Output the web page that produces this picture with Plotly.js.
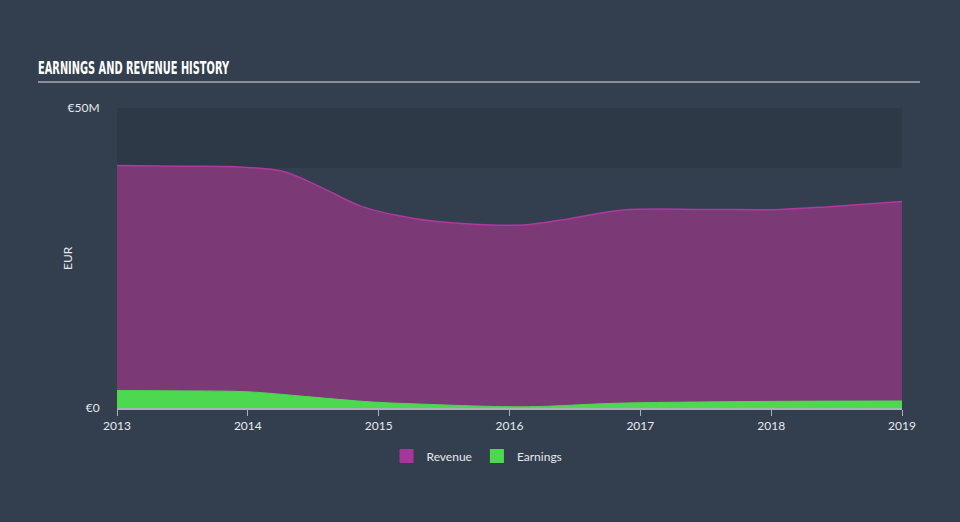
<!DOCTYPE html>
<html>
<head>
<meta charset="utf-8">
<script src="https://cdn.plot.ly/plotly-3.0.1.min.js"></script>
<style>
html,body{margin:0;padding:0;background:#333f4e;}
#chart{width:960px;height:522px;}
</style>
</head>
<body>
<div id="chart"></div>
<script>
// Revenue (EUR millions)
const revenueX = [2013.0, 2013.5, 2014.0, 2014.27, 2014.55, 2014.87, 2015.27, 2015.67, 2016.1, 2016.47, 2016.87, 2017.5, 2018.07, 2018.47, 2019.0];
const revenueY = [40.4, 40.3, 40.1, 39.4, 36.9, 33.6, 31.6, 30.7, 30.5, 31.6, 33.0, 33.1, 33.1, 33.6, 34.4];
// Earnings (EUR millions)
const earningsX = [2013.0, 2013.5, 2014.0, 2014.45, 2014.95, 2015.45, 2015.8, 2016.1, 2016.3, 2016.8, 2017.45, 2018.0, 2018.5, 2019.0];
const earningsY = [2.9, 2.85, 2.7, 1.9, 1.0, 0.55, 0.3, 0.2, 0.3, 0.78, 1.0, 1.1, 1.15, 1.17];
const xTicks = [2013, 2014, 2015, 2016, 2017, 2018, 2019];
const yTickVals = [0, 50];
const yTickText = ['€0', '€50M'];

const revColor = '#a7359c';
const revFill = '#7b3a76';
const earnColor = '#4cd94f';

const traces = [
  {x: revenueX, y: revenueY, type: 'scatter', mode: 'lines', fill: 'tozeroy',
   line: {color: '#b0389f', width: 1.5, shape: 'spline', smoothing: 1}, fillcolor: revFill,
   showlegend: false, hoverinfo: 'skip'},
  {x: earningsX, y: earningsY, type: 'scatter', mode: 'lines', fill: 'tozeroy',
   line: {color: earnColor, width: 1, shape: 'spline', smoothing: 1}, fillcolor: earnColor,
   showlegend: false, hoverinfo: 'skip'},
  {x: [null], y: [null], type: 'scatter', mode: 'markers', name: 'Revenue',
   marker: {color: revColor, symbol: 'square', size: 14}},
  {x: [null], y: [null], type: 'scatter', mode: 'markers', name: 'Earnings',
   marker: {color: earnColor, symbol: 'square', size: 14}}
];

const layout = {
  width: 960, height: 522,
  paper_bgcolor: '#333f4e',
  plot_bgcolor: 'rgba(0,0,0,0)',
  margin: {l: 117, r: 58, t: 108, b: 114},
  font: {family: 'Lato, "Open Sans", sans-serif', color: '#e6e9ed', size: 12},
  title: {
    text: 'EARNINGS AND REVENUE HISTORY',
    xref: 'container', yref: 'container',
    x: 38/960, xanchor: 'left', y: 1 - 68/522, yanchor: 'middle',
    font: {family: '"DejaVu Sans Condensed", "Liberation Sans Narrow", sans-serif', size: 17, weight: 700, color: '#ffffff'}
  },
  xaxis: {
    range: [2013, 2019], tickvals: xTicks, ticktext: xTicks.map(String),
    showgrid: false, zeroline: false, showline: true, linecolor: '#a9b0ba', linewidth: 1.5,
    ticks: 'outside', ticklen: 6, tickcolor: '#a9b0ba', tickwidth: 1,
    tickfont: {size: 12, color: '#e6e9ed'}, fixedrange: true
  },
  yaxis: {
    range: [0, 50], tickvals: yTickVals, ticktext: yTickText,
    showgrid: false, zeroline: false, showline: false,
    ticks: 'outside', ticklen: 14, tickcolor: 'rgba(0,0,0,0)',
    tickfont: {size: 12, color: '#e6e9ed'},
    fixedrange: true
  },
  annotations: [
    {text: 'EUR', xref: 'paper', yref: 'paper', x: (67-117)/785, y: (408-258)/300,
     xanchor: 'center', yanchor: 'middle', textangle: -90, showarrow: false,
     font: {size: 12, color: '#e6e9ed'}}
  ],
  shapes: [
    {type: 'rect', xref: 'x', yref: 'y', x0: 2013, x1: 2019, y0: 40, y1: 50,
     fillcolor: '#2d3947', line: {width: 0}, layer: 'below'},
    {type: 'line', xref: 'paper', yref: 'paper', x0: (38-117)/785, x1: (920-117)/785,
     y0: (408-82)/300, y1: (408-82)/300, line: {color: '#a7adb5', width: 1.5}}
  ],
  legend: {
    orientation: 'h', x: (477-117)/785, xanchor: 'center', xref: 'paper',
    y: (408-456)/300, yanchor: 'middle', itemwidth: 30,
    font: {size: 12, color: '#e6e9ed'}, bgcolor: 'rgba(0,0,0,0)'
  },
  showlegend: true
};

function fitTitle() {
  const t = document.querySelector('#chart .gtitle');
  if (t) {
    t.setAttribute('textLength', '191');
    t.setAttribute('lengthAdjust', 'spacingAndGlyphs');
  }
}

Plotly.newPlot('chart', traces, layout, {displayModeBar: false, staticPlot: true}).then(function(gd){
  fitTitle();
  gd.on('plotly_afterplot', fitTitle);
});
</script>
</body>
</html>
